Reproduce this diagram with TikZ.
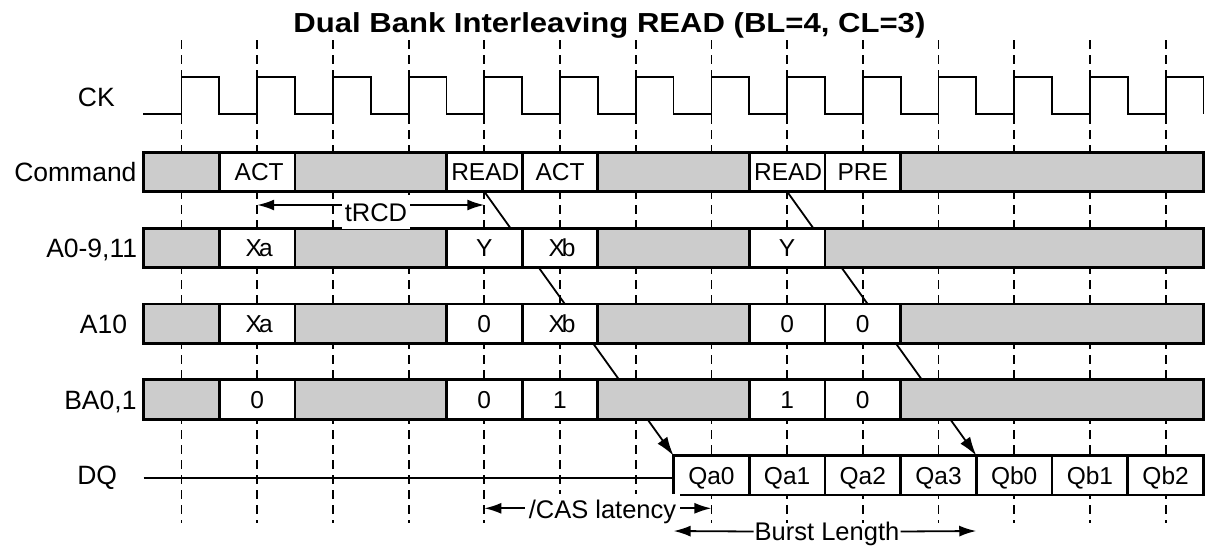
\documentclass[tikz,border=0pt]{standalone}
\usepackage{fontspec}
\setmainfont{Liberation Sans}
\newfontfamily\titlefont[FakeStretch=1.13]{Liberation Sans}
\usetikzlibrary{arrows.meta}
\definecolor{boxgray}{RGB}{204,204,204}
\pgfdeclarelayer{bg}
\pgfsetlayers{bg,main}
\tikzset{
 seg/.style={draw=black,line width=2.8pt,minimum height=39.3pt,inner sep=0pt,outer sep=0pt,
   font=\fontsize{24.5}{28}\selectfont,text height=17.5pt,text depth=0pt},
 sig/.style={anchor=east,inner sep=0pt,font=\fontsize{26.5}{30}\selectfont,text height=19pt,text depth=0pt},
 vgrid/.style={line width=1.8pt,dash pattern=on 9pt off 6pt},
 clk/.style={line width=1.8pt},
 diag/.style={line width=1.8pt,-{Latex[length=19pt,width=12pt]}},
 dim/.style={line width=1.8pt,{Latex[length=17pt,width=11pt]}-{Latex[length=17pt,width=11pt]}},
 half/.style={line width=1.8pt,-{Latex[length=17pt,width=11pt]}},
 note/.style={inner sep=0pt,font=\fontsize{25.5}{30}\selectfont,text height=18.3pt,text depth=0pt},
}
\newcommand\tseg[6]{\node[seg,fill=#5,minimum width={75.7*(#3-#2)}] (#1) at ({143.65+75.7*(#2+#3)/2},{171.95+75.85*#4}) {#6};}
\newcommand\Xa{\hspace{4pt}X\kern-3pt a}
\newcommand\Xb{\hspace{4pt}X\kern-3pt b}
\begin{document}
\begin{tikzpicture}[x=1pt,y=-1pt]
\useasboundingbox (0,0) rectangle (1208,547);
% title
\node[inner sep=0pt,font=\titlefont\bfseries\fontsize{27.5}{30}\selectfont,text height=19.7pt,text depth=0pt] (title) at (609.4,22.5) {Dual Bank Interleaving READ (BL=4, CL=3)};
% signal labels
\node[sig] (lck) at (115,96.7) {CK};
\node[sig] (lcmd) at (136.7,171.95) {Command};
\node[sig] (la) at (137.3,247.8) {A0-9,11};
\node[sig] (la10) at (127.3,323.65) {A10};
\node[sig] (lba) at (136.7,399.5) {BA0,1};
\node[sig] (ldq) at (117.3,475) {DQ};
% Command row
\tseg{c0}{0}{1}{0}{boxgray}{}
\tseg{c1}{1}{2}{0}{white}{\hspace{4pt}ACT}
\tseg{c2}{2}{4}{0}{boxgray}{}
\tseg{c3}{4}{5}{0}{white}{\hspace{2pt}READ}
\tseg{c4}{5}{6}{0}{white}{ACT}
\tseg{c5}{6}{8}{0}{boxgray}{}
\tseg{c6}{8}{9}{0}{white}{\hspace{2pt}READ}
\tseg{c7}{9}{10}{0}{white}{PRE}
\tseg{c8}{10}{14}{0}{boxgray}{}
% A0-9,11 row
\tseg{a0}{0}{1}{1}{boxgray}{}
\tseg{a1}{1}{2}{1}{white}{\Xa}
\tseg{a2}{2}{4}{1}{boxgray}{}
\tseg{a3}{4}{5}{1}{white}{Y}
\tseg{a4}{5}{6}{1}{white}{\Xb}
\tseg{a5}{6}{8}{1}{boxgray}{}
\tseg{a6}{8}{9}{1}{white}{Y}
\tseg{a7}{9}{14}{1}{boxgray}{}
% A10 row
\tseg{b0}{0}{1}{2}{boxgray}{}
\tseg{b1}{1}{2}{2}{white}{\Xa}
\tseg{b2}{2}{4}{2}{boxgray}{}
\tseg{b3}{4}{5}{2}{white}{0}
\tseg{b4}{5}{6}{2}{white}{\Xb}
\tseg{b5}{6}{8}{2}{boxgray}{}
\tseg{b6}{8}{9}{2}{white}{0}
\tseg{b7}{9}{10}{2}{white}{0}
\tseg{b8}{10}{14}{2}{boxgray}{}
% BA0,1 row
\tseg{d0}{0}{1}{3}{boxgray}{}
\tseg{d1}{1}{2}{3}{white}{0}
\tseg{d2}{2}{4}{3}{boxgray}{}
\tseg{d3}{4}{5}{3}{white}{0}
\tseg{d4}{5}{6}{3}{white}{1}
\tseg{d5}{6}{8}{3}{boxgray}{}
\tseg{d6}{8}{9}{3}{white}{1}
\tseg{d7}{9}{10}{3}{white}{0}
\tseg{d8}{10}{14}{3}{boxgray}{}
% DQ row
\tseg{q0}{7}{8}{4}{white}{Qa0}
\tseg{q1}{8}{9}{4}{white}{Qa1}
\tseg{q2}{9}{10}{4}{white}{Qa2}
\tseg{q3}{10}{11}{4}{white}{Qa3}
\tseg{q4}{11}{12}{4}{white}{Qb0}
\tseg{q5}{12}{13}{4}{white}{Qb1}
\tseg{q6}{13}{14}{4}{white}{Qb2}
\coordinate (dqs) at (143.65,477.7);
\draw[line width=1.8pt] (dqs) -- (dqs -| q0.west);
% background: grid, clock, diagonals
\begin{pgfonlayer}{bg}
\foreach \k in {0,...,13} \draw[vgrid] ({181.5+75.7*\k},40) -- ({181.5+75.7*\k},523);
\draw[clk] (143.3,114.3) \foreach \k in {0,...,13} { -- ({181.5+75.7*\k},114.3) -- ++(0,-37.3) -- ++(37.85,0) -- ++(0,37.3)};
\draw[diag] (c3.south) -- (q0.north west);
\draw[diag] (c6.south) -- (q4.north west);
\end{pgfonlayer}
% tRCD
\coordinate (trL) at (257.2,205);
\coordinate (trR) at (484.3,205);
\draw[dim] (trL) -- (trR);
\node[note,fill=white,minimum width=68pt,minimum height=34pt] (trcd) at (376,212.3) {tRCD};
% /CAS latency
\coordinate (casL) at (484.3,508.3);
\coordinate (casR) at (711.4,508.3);
\draw[dim] (casL) -- (casR);
\node[note,fill=white,minimum width=155pt,minimum height=30pt] (cas) at (602.5,509) {/CAS latency};
% Burst Length
\coordinate (bsL) at (673.55,531);
\coordinate (bsR) at (976.25,531);
\node[note,inner xsep=1pt] (burst) at (827,531.5) {Burst Length};
\draw[half] (burst.west) -- (bsL);
\draw[half] (burst.east) -- (bsR);
\end{tikzpicture}
\end{document}
